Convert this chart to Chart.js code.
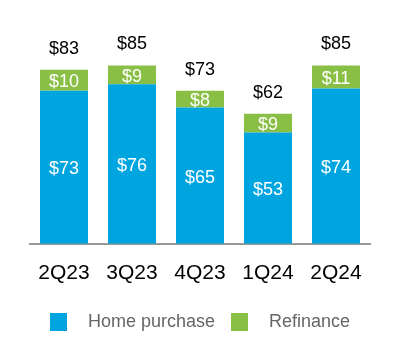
<!DOCTYPE html>
<html>
<head>
<meta charset="utf-8">
<script src="https://cdn.jsdelivr.net/npm/chart.js@4/dist/chart.umd.min.js"></script>
<style>
  html, body { margin: 0; padding: 0; background: #fff; }
  #wrap { position: relative; width: 400px; height: 364px; }
  #legend {
    position: absolute; left: 0; top: 311px; width: 400px;
    display: flex; justify-content: center; align-items: center;
    font-family: "Liberation Sans", Arial, sans-serif; font-size: 18px; color: #666;
  }
  .item { display: flex; align-items: center; margin: 0 8px; }
  .swatch { width: 17px; height: 18px; margin-right: 21px; }
</style>
</head>
<body>
<div id="wrap">
  <canvas id="chart" width="400" height="364"></canvas>
  <div id="legend"></div>
</div>
<script>
const quarters = ['2Q23', '3Q23', '4Q23', '1Q24', '2Q24'];
const homePurchase = [73, 76, 65, 53, 74];
const refinance = [10, 9, 8, 9, 11];
const totals = [83, 85, 73, 62, 85];

const FONT = '"Liberation Sans", Arial, sans-serif';
const BLUE = '#00A5E0';
const GREEN = '#8ABF45';

const barLabels = {
    id: 'barLabels',
    afterDatasetsDraw(chart) {
        const ctx = chart.ctx;
        ctx.save();
        ctx.font = '18px ' + FONT;
        ctx.textAlign = 'center';
        ctx.textBaseline = 'middle';
        chart.data.datasets.forEach((ds, di) => {
            const meta = chart.getDatasetMeta(di);
            meta.data.forEach((bar, i) => {
                ctx.fillStyle = '#fff';
                ctx.fillText('$' + ds.data[i], bar.x, (bar.y + bar.base) / 2 + 2);
            });
        });
        const top = chart.getDatasetMeta(chart.data.datasets.length - 1);
        top.data.forEach((bar, i) => {
            ctx.fillStyle = '#000';
            ctx.fillText('$' + totals[i], bar.x, bar.y - 21);
        });
        ctx.restore();
    }
};

const chart = new Chart(document.getElementById('chart'), {
    type: 'bar',
    data: {
        labels: quarters,
        datasets: [
            { label: 'Home purchase', data: homePurchase, backgroundColor: BLUE },
            { label: 'Refinance', data: refinance, backgroundColor: GREEN }
        ]
    },
    options: {
        responsive: false,
        animation: false,
        layout: { padding: { top: 34, left: 30, right: 30, bottom: 61 } },
        datasets: { bar: { categoryPercentage: 1, barPercentage: 0.706 } },
        plugins: { legend: { display: false }, tooltip: { enabled: false } },
        scales: {
            x: {
                stacked: true,
                grid: { display: false, drawTicks: false },
                border: { color: '#999', width: 2 },
                ticks: { color: '#000', font: { family: FONT, size: 21 }, padding: 17 }
            },
            y: { stacked: true, display: false, min: 0, max: 100 }
        }
    },
    plugins: [barLabels]
});

const legend = document.getElementById('legend');
chart.data.datasets.forEach(ds => {
    const item = document.createElement('div');
    item.className = 'item';
    item.innerHTML = `<span class="swatch" style="background:${ds.backgroundColor}"></span><span>${ds.label}</span>`;
    legend.appendChild(item);
});
</script>
</body>
</html>
